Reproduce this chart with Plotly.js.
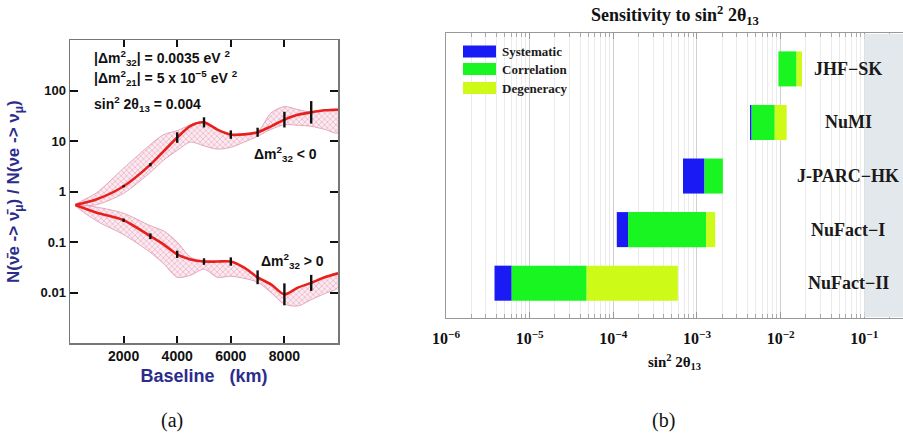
<!DOCTYPE html>
<html>
<head>
<meta charset="utf-8">
<script src="https://cdn.plot.ly/plotly-3.0.1.min.js"></script>
<style>html,body{margin:0;padding:0;background:#fff;}#chart{width:903px;height:437px;}</style>
</head>
<body>
<div id="chart"></div>
<script>
// ---------- Panel (a): ratio vs baseline ----------
const baselineKm = [200, 1000, 2000, 3000, 3500, 4000, 4500, 5000, 5500, 6000, 6500, 7000, 7500, 8000, 8500, 9000, 9500, 10000];
// Δm²32 < 0 (inverted)
const ratioInverted     = [0.54, 0.70, 1.27, 3.4, 6.3, 11.7, 20, 23.4, 16.8, 13.4, 13.5, 14.9, 19.5, 26.5, 33, 37, 40.5, 41.7];
const ratioInvertedHigh = [0.54, 0.95, 2.9, 8.5, 13.4, 16, 21, 24, 17, 13.5, 13.6, 15.2, 36, 48, 42, 37.5, 41, 42];
const ratioInvertedLow  = [0.54, 0.55, 0.92, 2.4, 4.2, 6.5, 9.5, 8, 6.9, 7.5, 9.5, 12.4, 17, 21, 20.5, 19.5, 17, 14.4];
// Δm²32 > 0 (normal)
const ratioNormal     = [0.54, 0.38, 0.27, 0.13, 0.089, 0.057, 0.045, 0.041, 0.041, 0.041, 0.031, 0.020, 0.0145, 0.0092, 0.0125, 0.0155, 0.020, 0.024];
const ratioNormalHigh = [0.54, 0.49, 0.37, 0.21, 0.165, 0.10, 0.05, 0.042, 0.041, 0.041, 0.031, 0.020, 0.0145, 0.0092, 0.0125, 0.0155, 0.020, 0.024];
const ratioNormalLow  = [0.54, 0.26, 0.14, 0.062, 0.037, 0.020, 0.022, 0.029, 0.020, 0.021, 0.019, 0.016, 0.010, 0.0059, 0.0054, 0.0072, 0.0095, 0.0125];
// error marks (multiplicative half-size) at these baselines
const errBaselineKm = [2000, 3000, 4000, 5000, 6000, 7000, 8000, 9000];
const errFactorInverted = [1.05, 1.08, 1.27, 1.26, 1.21, 1.23, 1.43, 1.67];
const errFactorNormal   = [1.08, 1.14, 1.18, 1.16, 1.21, 1.37, 1.65, 1.44];
const xTickVals = [2000, 4000, 6000, 8000];
const yTickVals = [0.01, 0.1, 1, 10, 100];
const yTickText = ['0.01', '0.1', '1', '10', '100'];

// ---------- Panel (b): sensitivity bars ----------
const experiments = ['NuFact\u2212II', 'NuFact\u2212I', 'J-PARC\u2212HK', 'NuMI', 'JHF\u2212SK'];
const statLimit   = [3.8e-6, 1.1e-4, 6.8e-4, 4.3e-3, 9.4e-3];
const systLimit   = [6.1e-6, 1.5e-4, 1.23e-3, 4.5e-3, 9.4e-3];
const corrLimit   = [4.8e-5, 1.29e-3, 2.04e-3, 8.5e-3, 1.55e-2];
const degenLimit  = [5.9e-4, 1.65e-3, 2.04e-3, 1.18e-2, 1.8e-2];
const excludedFrom = 0.1;
const componentNames = ['Systematic', 'Correlation', 'Degeneracy'];
const componentColors = ['#1a1af5', '#18f521', '#cdfa17'];
const decadeVals = [1e-6, 1e-5, 1e-4, 1e-3, 1e-2, 1e-1];
const decadeText = ['10<sup>\u22126</sup>', '10<sup>\u22125</sup>', '10<sup>\u22124</sup>', '10<sup>\u22123</sup>', '10<sup>\u22122</sup>', '10<sup>\u22121</sup>'];

const SANS = 'Liberation Sans, Arial, sans-serif';
const SERIF = 'Liberation Serif, Times New Roman, serif';
const NAVY = '#2c2c8c';
const W = 903, H = 437;
const px = v => v / W, py = v => 1 - v / H;

function band(lo, hi) {
  return {
    x: baselineKm.concat(baselineKm.slice().reverse()),
    y: hi.concat(lo.slice().reverse())
  };
}
function errTrace(curve, factors) {
  const ys = errBaselineKm.map(b => curve[baselineKm.indexOf(b)]);
  return {
    type: 'scatter', mode: 'markers', x: errBaselineKm, y: ys, xaxis: 'x', yaxis: 'y',
    marker: {size: 1, opacity: 0}, showlegend: false, hoverinfo: 'skip',
    error_y: {type: 'data', symmetric: false,
      array: ys.map((v, i) => v * (factors[i] - 1)),
      arrayminus: ys.map((v, i) => v * (1 - 1 / factors[i])),
      color: '#111', thickness: 2.4, width: 0}
  };
}
const bandStyle = {
  type: 'scatter', mode: 'lines', fill: 'toself', xaxis: 'x', yaxis: 'y',
  line: {color: '#dc97b0', width: 0.8, shape: 'spline', smoothing: 0.8},
  fillcolor: 'rgba(240,185,205,0.55)',
  fillpattern: {shape: 'x', fgcolor: '#e39ab5', bgcolor: 'rgba(248,222,232,0.6)', size: 4, solidity: 0.25},
  showlegend: false, hoverinfo: 'skip'
};
const bInv = band(ratioInvertedLow, ratioInvertedHigh);
const bNor = band(ratioNormalLow, ratioNormalHigh);

const traces = [
  Object.assign({}, bandStyle, {x: bInv.x, y: bInv.y, name: 'band <0'}),
  Object.assign({}, bandStyle, {x: bNor.x, y: bNor.y, name: 'band >0'}),
  {type: 'scatter', mode: 'lines', x: baselineKm, y: ratioInverted, xaxis: 'x', yaxis: 'y',
   line: {color: '#e8201c', width: 2.6, shape: 'spline', smoothing: 0.8}, name: 'Δm²32 < 0', showlegend: false},
  {type: 'scatter', mode: 'lines', x: baselineKm, y: ratioNormal, xaxis: 'x', yaxis: 'y',
   line: {color: '#e8201c', width: 2.6, shape: 'spline', smoothing: 0.8}, name: 'Δm²32 > 0', showlegend: false},
  errTrace(ratioInverted, errFactorInverted),
  errTrace(ratioNormal, errFactorNormal)
];

// bars: blue (stat->syst), green (syst->corr), yellow (corr->degen)
const yIdx = experiments.map((_, i) => i);
const segStarts = [statLimit, systLimit, corrLimit];
const segEnds = [systLimit, corrLimit, degenLimit];
componentNames.forEach((nm, k) => {
  traces.push({
    type: 'bar', orientation: 'h', xaxis: 'x2', yaxis: 'y2', name: nm,
    y: yIdx, base: segStarts[k], x: segEnds[k].map((e, i) => e - segStarts[k][i]),
    width: 0.654, marker: {color: componentColors[k], line: {width: 0}}, showlegend: false
  });
});

const annotations = [];
const ann = (text, x, y, opts) => annotations.push(Object.assign({
  text, x, y, xref: 'paper', yref: 'paper', showarrow: false, xanchor: 'left', yanchor: 'middle',
  font: {family: SANS, size: 14, color: '#111', weight: 'bold'}}, opts || {}));
ann('|Δm<sup>2</sup><sub>32</sub>| = 0.0035 eV <sup>2</sup>', px(92), py(58));
ann('|Δm<sup>2</sup><sub>21</sub>| = 5 x 10<sup>\u22125</sup> eV <sup>2</sup>', px(92), py(78));
ann('sin<sup>2</sup> 2θ<sub>13</sub> = 0.004', px(92), py(104));
ann('Δm<sup>2</sup><sub>32</sub> &lt; 0', px(252), py(154));
ann('Δm<sup>2</sup><sub>32</sub> &gt; 0', px(259), py(261));
// y title of panel a
ann('N(ν\u0304e -&gt; ν\u0304<sub>μ</sub>) / N(νe -&gt; ν<sub>μ</sub>)', px(15), py(192),
  {xanchor: 'center', textangle: -90, font: {family: SANS, size: 17, color: NAVY, weight: 'bold'}});
// experiment labels
experiments.forEach((nm, i) => annotations.push({
  text: nm, x: px(848), y: i, xref: 'paper', yref: 'y2', showarrow: false, xanchor: 'center', yanchor: 'middle',
  font: {family: SERIF, size: 18, color: '#1a1a1a', weight: 'bold'}}));
// excluded region and manual legend for panel b
const shapes = [
  {type: 'rect', xref: 'x2', yref: 'paper', x0: excludedFrom, x1: 10, y0: py(317), y1: py(34),
   fillcolor: '#e2e8ec', line: {width: 0}, layer: 'above'}
];
const legRows = [51.5, 69, 88];
componentNames.forEach((nm, k) => {
  shapes.push({type: 'rect', xref: 'paper', yref: 'paper', x0: px(463), x1: px(496),
    y0: py(legRows[k] + 6), y1: py(legRows[k] - 6), fillcolor: componentColors[k], line: {width: 0}});
  ann(nm, px(500), py(legRows[k]), {font: {family: SERIF, size: 13, color: '#1a1a1a', weight: 'bold'}});
});
// captions
ann('(a)', px(172), py(420), {xanchor: 'center', font: {family: SERIF, size: 20, color: '#111'}});
ann('(b)', px(663), py(420), {xanchor: 'center', font: {family: SERIF, size: 20, color: '#111'}});

const layout = {
  width: W, height: H, margin: {l: 0, r: 0, t: 0, b: 0},
  paper_bgcolor: '#fff', plot_bgcolor: '#fff', barmode: 'overlay', showlegend: false,
  title: {text: 'Sensitivity to sin<sup>2</sup> 2θ<sub>13</sub>', x: px(675), xanchor: 'center', y: py(15), yanchor: 'middle',
    font: {family: SERIF, size: 18, color: '#111', weight: 'bold'}},
  xaxis: {domain: [px(70), px(338)], anchor: 'y', range: [0, 10000], tickvals: xTickVals,
    ticks: 'inside', ticklen: 7, tickwidth: 2, tickcolor: '#111', mirror: 'ticks',
    showline: true, linecolor: '#777', linewidth: 1.5, showgrid: false, zeroline: false,
    tickfont: {family: SANS, size: 14, color: '#111', weight: 'bold'},
    title: {text: 'Baseline\u00a0\u00a0\u00a0(km)', standoff: 6, font: {family: SANS, size: 18, color: NAVY, weight: 'bold'}}},
  yaxis: {domain: [py(343), py(40)], anchor: 'x', type: 'log', range: [-3, 3], tickvals: yTickVals, ticktext: yTickText,
    ticks: 'inside', ticklen: 8, tickwidth: 2, tickcolor: '#111', mirror: 'ticks',
    showline: true, linecolor: '#777', linewidth: 1.5, showgrid: false, zeroline: false,
    tickfont: {family: SANS, size: 13, color: '#111', weight: 'bold'}},
  xaxis2: {domain: [px(446), 1], anchor: 'y2', type: 'log', range: [-6, Math.log10(0.29)],
    tickvals: decadeVals, ticktext: decadeText, ticks: 'inside', ticklen: 6, tickcolor: '#999',
    ticklabelstandoff: 6,
    showline: true, linecolor: '#999', linewidth: 1.2, mirror: 'allticks',
    showgrid: true, gridcolor: 'rgba(0,0,0,0.11)', gridwidth: 1, zeroline: false,
    minor: {dtick: 'D1', ticks: 'inside', ticklen: 4, tickcolor: '#aaa', showgrid: true, gridcolor: 'rgba(0,0,0,0.08)', gridwidth: 1},
    tickfont: {family: SERIF, size: 16, color: '#111', weight: 'bold'},
    title: {text: 'sin<sup>2</sup> 2θ<sub>13</sub>', standoff: 10, font: {family: SERIF, size: 15, color: '#111', weight: 'bold'}}},
  yaxis2: {domain: [py(318), py(33)], anchor: 'x2', range: [-0.65, 4.67], showticklabels: false, ticks: '',
    showline: true, linecolor: '#999', linewidth: 1.2, showgrid: false, zeroline: false},
  annotations, shapes
};
Plotly.newPlot('chart', traces, layout, {displayModeBar: false, staticPlot: true});
</script>
</body>
</html>
